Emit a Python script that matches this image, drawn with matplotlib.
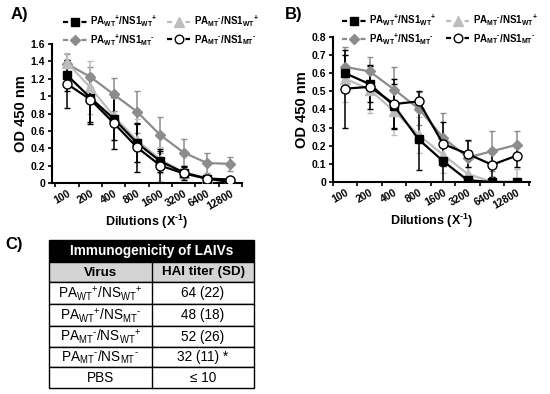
import matplotlib
matplotlib.use("Agg")
import matplotlib.pyplot as plt
import matplotlib.transforms as mtransforms
from matplotlib.patches import Rectangle
from matplotlib.lines import Line2D
import numpy as np

plt.rcParams['font.family'] = ['Liberation Sans', 'DejaVu Sans']
plt.rcParams['mathtext.fontset'] = 'custom'
plt.rcParams['mathtext.rm'] = 'Liberation Sans'
plt.rcParams['mathtext.bf'] = 'Liberation Sans:bold'
plt.rcParams['mathtext.it'] = 'Liberation Sans:italic'

HY = "\u2010"  # short hyphen for superscript minus

dilutions = ["100", "200", "400", "800", "1600", "3200", "6400", "12800"]

series_labels = [
    r"$\mathbf{PA_{WT}{}^{+}/NS1_{WT}{}^{+}}$",
    r"$\mathbf{PA_{WT}{}^{+}/NS1_{MT}{}^{" + HY + r"}}$",
    r"$\mathbf{PA_{MT}{}^{" + HY + r"}/NS1_{WT}{}^{+}}$",
    r"$\mathbf{PA_{MT}{}^{" + HY + r"}/NS1_{MT}{}^{" + HY + r"}}$",
]

# Panel A values (square, diamond, triangle, circle)
a_sq = [1.24, 0.98, 0.74, 0.46, 0.25, 0.12, 0.05, 0.01]
a_dia = [1.37, 1.22, 1.02, 0.82, 0.55, 0.35, 0.23, 0.22]
a_tri = [1.38, 1.10, 0.77, 0.49, 0.27, 0.12, 0.06, 0.03]
a_cir = [1.14, 0.96, 0.69, 0.41, 0.20, 0.11, 0.05, 0.04]
a_sq_err = [0.18, 0.28, 0.25, 0.22, 0.12, 0.06, 0.03, 0.02]
a_dia_err = [0.12, 0.12, 0.19, 0.24, 0.21, 0.16, 0.11, 0.08]
a_tri_err = [0.12, 0.30, 0.28, 0.25, 0.15, 0.08, 0.04, 0.03]
a_cir_err = [0.28, 0.28, 0.30, 0.28, 0.19, 0.08, 0.03, 0.02]

# Panel B values
b_sq = [0.60, 0.54, 0.42, 0.235, 0.115, 0.01, 0.0, 0.0]
b_dia = [0.635, 0.61, 0.51, 0.405, 0.245, 0.135, 0.17, 0.205]
b_tri = [0.57, 0.51, 0.39, 0.26, 0.15, 0.045, 0.0, 0.0]
b_cir = [0.515, 0.525, 0.43, 0.445, 0.21, 0.155, 0.095, 0.145]
b_sq_err = [0.10, 0.10, 0.12, 0.17, 0.12, 0.02, 0.01, 0.01]
b_dia_err = [0.11, 0.08, 0.125, 0.09, 0.135, 0.09, 0.11, 0.075]
b_tri_err = [0.13, 0.13, 0.13, 0.10, 0.10, 0.04, 0.03, 0.07]
b_cir_err = [0.215, 0.12, 0.14, 0.055, 0.12, 0.075, 0.07, 0.06]

# Table C
table_title = "Immunogenicity of LAIVs"
table_cols = ["Virus", "HAI titer (SD)"]
viruses = [
    r"PA$_{\mathrm{WT}}{}^{+}$/NS$_{\mathrm{WT}}{}^{+}$",
    r"PA$_{\mathrm{WT}}{}^{+}$/NS$_{\mathrm{MT}}{}^{" + HY + r"}$",
    r"PA$_{\mathrm{MT}}{}^{" + HY + r"}$/NS$_{\mathrm{WT}}{}^{+}$",
    r"PA$_{\mathrm{MT}}{}^{" + HY + r"}$/NS$_{\mathrm{MT}}{}^{" + HY + r"}$",
    "PBS",
]
titers = ["64 (22)", "48 (18)", "52 (26)", "32 (11) *", "≤ 10"]

W, H = 550, 394
fig = plt.figure(figsize=(W / 100, H / 100), dpi=100)


def px_axes(x0, y0, x1, y1):
    return fig.add_axes([x0 / W, 1 - y1 / H, (x1 - x0) / W, (y1 - y0) / H])


styles = [
    dict(color="black", marker="s", mfc="black", mec="black", ms=6),
    dict(color="#8c8c8c", marker="D", mfc="#8c8c8c", mec="#8c8c8c", ms=5),
    dict(color="#bdbdbd", marker="^", mfc="#bdbdbd", mec="#bdbdbd", ms=7),
    dict(color="black", marker="o", mfc="white", mec="black", ms=6.5, mew=1),
]


def draw_panel(ax, vals, errs, ymax, ystep, xlim, yfmt, legend_center):
    x = np.arange(len(dilutions))
    order = [1, 2, 0, 3]  # draw order
    for i in order:
        st = styles[i]
        ax.errorbar(x, vals[i], yerr=errs[i], fmt="none", ecolor=st["color"],
                    elinewidth=1.1, capsize=2, capthick=1.0, zorder=2)
    for i in order:
        ax.plot(x, vals[i], lw=1.6, zorder=3, **styles[i])
    handles = []
    for i in range(4):
        st = dict(styles[i])
        st["ms"] = st["ms"] * 0.95
        handles.append(Line2D([], [], lw=1.6, dashes=(2.3, 6.0), **st))
    ax.set_xlim(*xlim)
    ax.set_ylim(0, ymax)
    ax.set_yticks(np.arange(0, ymax + 1e-9, ystep))
    ax.set_yticklabels([yfmt(v) for v in np.arange(0, ymax + 1e-9, ystep)],
                       fontsize=7.5, fontweight="bold")
    ax.set_xticks(x)
    ax.set_xticklabels(dilutions, rotation=30, ha="right", rotation_mode="anchor",
                       fontsize=7.5, fontweight="bold")
    off = mtransforms.ScaledTranslation(8 / 100, 0, fig.dpi_scale_trans)
    for lab in ax.get_xticklabels():
        lab.set_transform(lab.get_transform() + off)
    ax.tick_params(axis="x", length=0, pad=4)
    ax.set_xticks(np.arange(-0.5, len(dilutions), 1), minor=True)
    ax.tick_params(axis="x", which="minor", length=3, width=1.2, direction="out")
    ax.tick_params(axis="y", length=3, width=1.2, direction="out", pad=2)
    for s in ["top", "right"]:
        ax.spines[s].set_visible(False)
    for s in ["left", "bottom"]:
        ax.spines[s].set_linewidth(1.5)
    ax.set_ylabel("OD 450 nm", fontsize=10.5, fontweight="bold", labelpad=2)
    ax.set_xlabel(r"Dilutions (X$^{\mathbf{" + HY + r"1}}$)", fontsize=9,
                  fontweight="bold", labelpad=1)
    fig.legend(handles, series_labels, ncol=2, loc="center",
               bbox_to_anchor=(legend_center[0] / W, 1 - legend_center[1] / H),
               frameon=False, fontsize=7, handlelength=2.45, handletextpad=0.4,
               columnspacing=0.9, labelspacing=0.35, borderpad=0)


axA = px_axes(52, 44, 242, 183)
draw_panel(axA, [a_sq, a_dia, a_tri, a_cir], [a_sq_err, a_dia_err, a_tri_err, a_cir_err],
           1.6, 0.2, (-0.65, 7.5),
           lambda v: "0" if abs(v) < 1e-9 else ("1" if abs(v - 1) < 1e-9 else f"{v:.1f}"),
           (161, 31))

axB = px_axes(333, 37, 530, 182)
draw_panel(axB, [b_sq, b_dia, b_tri, b_cir], [b_sq_err, b_dia_err, b_tri_err, b_cir_err],
           0.8, 0.1, (-0.45, 7.55),
           lambda v: "0" if abs(v) < 1e-9 else f"{v:.1f}",
           (440, 30))

fig.text(11 / W, 1 - 14 / H, "A)", fontsize=12, fontweight="bold", va="center")
fig.text(285 / W, 1 - 14 / H, "B)", fontsize=12, fontweight="bold", va="center")
fig.text(5 / W, 1 - 245 / H, "C)", fontsize=12, fontweight="bold", va="center")

# Table
axT = fig.add_axes([0, 0, 1, 1])
axT.set_xlim(0, W)
axT.set_ylim(H, 0)
axT.axis("off")
tx0, tx1, tmid = 49, 254, 152
row_edges = [240, 262, 282, 304, 326, 347, 367, 388]
axT.add_patch(Rectangle((tx0, row_edges[0]), tx1 - tx0, row_edges[1] - row_edges[0],
                        facecolor="black", edgecolor="black", lw=1))
axT.add_patch(Rectangle((tx0, row_edges[1]), tx1 - tx0, row_edges[2] - row_edges[1],
                        facecolor="#d4d4d4", edgecolor="black", lw=1))
for k in range(2, len(row_edges) - 1):
    axT.add_patch(Rectangle((tx0, row_edges[k]), tx1 - tx0, row_edges[k + 1] - row_edges[k],
                            facecolor="white", edgecolor="black", lw=1))
axT.plot([tmid, tmid], [row_edges[1], row_edges[-1]], color="black", lw=1)
axT.text((tx0 + tx1) / 2, (row_edges[0] + row_edges[1]) / 2 + 0.5, table_title, color="white",
         fontsize=9.8, fontweight="bold", ha="center", va="center")
axT.text((tx0 + tmid) / 2, (row_edges[1] + row_edges[2]) / 2 + 0.5, table_cols[0],
         fontsize=9.6, fontweight="bold", ha="center", va="center")
axT.text((tmid + tx1) / 2, (row_edges[1] + row_edges[2]) / 2 + 0.5, table_cols[1],
         fontsize=9.6, fontweight="bold", ha="center", va="center")
for k, (v, t) in enumerate(zip(viruses, titers)):
    yc = (row_edges[k + 2] + row_edges[k + 3]) / 2 + 0.5
    axT.text((tx0 + tmid) / 2, yc, v, fontsize=9.8, ha="center", va="center")
    axT.text((tmid + tx1) / 2, yc, t, fontsize=9.8, ha="center", va="center")

fig.savefig("out.png", dpi=100)
